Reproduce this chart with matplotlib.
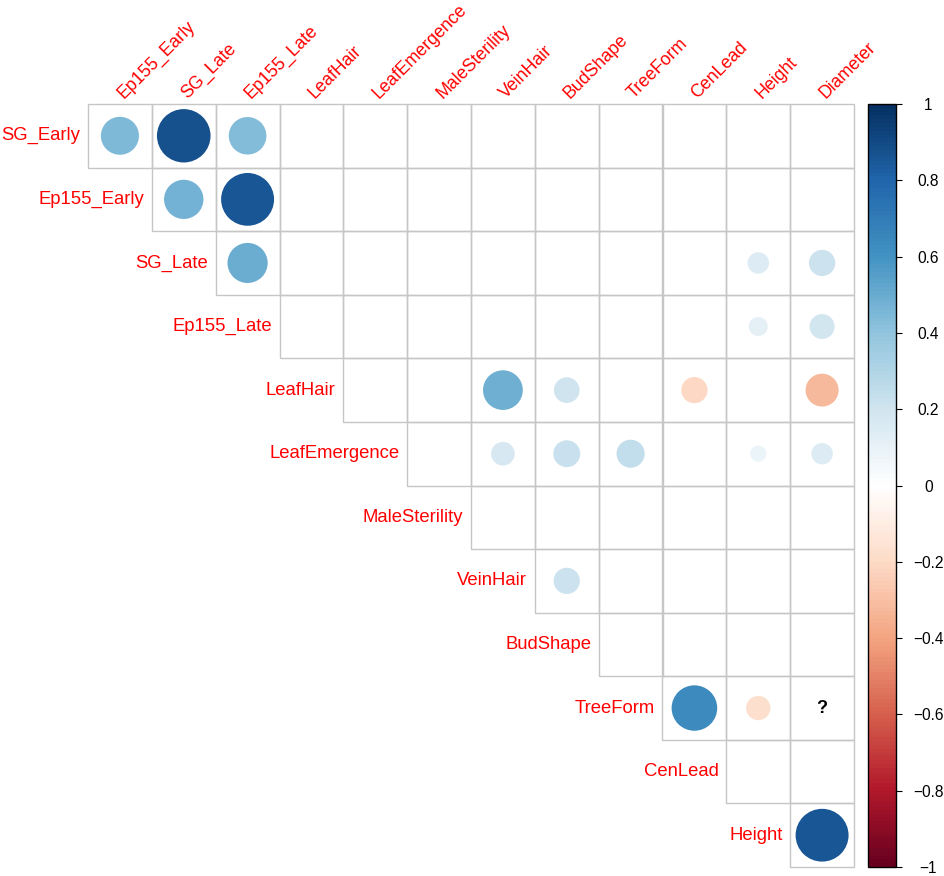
import numpy as np
import matplotlib as mpl
import matplotlib.pyplot as plt
from matplotlib.colors import LinearSegmentedColormap, Normalize
from matplotlib.patches import Circle, Rectangle

plt.rcParams['font.family'] = ['Liberation Sans', 'DejaVu Sans']

# row / column names of the upper triangle (diagonal dropped)
row_names = ['SG_Early', 'Ep155_Early', 'SG_Late', 'Ep155_Late', 'LeafHair',
             'LeafEmergence', 'MaleSterility', 'VeinHair', 'BudShape',
             'TreeForm', 'CenLead', 'Height']
col_names = ['Ep155_Early', 'SG_Late', 'Ep155_Late', 'LeafHair',
             'LeafEmergence', 'MaleSterility', 'VeinHair', 'BudShape',
             'TreeForm', 'CenLead', 'Height', 'Diameter']

# correlations, 0 = blank cell, None = NA ("?")
corr = [
    [0.44, 0.87, 0.43, 0, 0, 0, 0, 0, 0, 0, 0, 0],
    [0, 0.47, 0.85, 0, 0, 0, 0, 0, 0, 0, 0, 0],
    [0, 0, 0.49, 0, 0, 0, 0, 0, 0, 0, 0.14, 0.21],
    [0, 0, 0, 0, 0, 0, 0, 0, 0, 0, 0.11, 0.19],
    [0, 0, 0, 0, 0, 0, 0.48, 0.20, 0, -0.21, 0, -0.33],
    [0, 0, 0, 0, 0, 0, 0.17, 0.22, 0.24, 0, 0.08, 0.14],
    [0, 0, 0, 0, 0, 0, 0, 0, 0, 0, 0, 0],
    [0, 0, 0, 0, 0, 0, 0, 0.21, 0, 0, 0, 0],
    [0, 0, 0, 0, 0, 0, 0, 0, 0, 0, 0, 0],
    [0, 0, 0, 0, 0, 0, 0, 0, 0, 0.63, -0.18, None],
    [0, 0, 0, 0, 0, 0, 0, 0, 0, 0, 0, 0],
    [0, 0, 0, 0, 0, 0, 0, 0, 0, 0, 0, 0.85],
]

rdbu = ['#67001F', '#B2182B', '#D6604D', '#F4A582', '#FDDBC7', '#FFFFFF',
        '#D1E5F0', '#92C5DE', '#4393C3', '#2166AC', '#053061']
cmap = LinearSegmentedColormap.from_list('corr', rdbu, N=200)
norm = Normalize(-1, 1)

n = len(row_names)
fig = plt.figure(figsize=(9.45, 8.76), dpi=100)
ax = fig.add_axes([88 / 945, 9 / 876, 766 / 945, 763 / 876])
ax.set_xlim(-0.5, n - 0.5)
ax.set_ylim(n - 0.5, -0.5)
ax.axis('off')

for i in range(n):
    for j in range(i, n):
        ax.add_patch(Rectangle((j - 0.5, i - 0.5), 1, 1, fill=False,
                               ec='#c6c6c6', lw=1.0, clip_on=False))
        r = corr[i][j]
        if r is None:
            ax.text(j, i, '?', ha='center', va='center', fontsize=13,
                    fontweight='bold', color='black')
        elif r != 0:
            ax.add_patch(Circle((j, i), 0.45 * np.sqrt(abs(r)),
                                fc=cmap(norm(r)), ec='none'))

# labels
for i, name in enumerate(row_names):
    ax.text(i - 0.62, i, name, ha='right', va='center', color='red',
            fontsize=13.3)
for j, name in enumerate(col_names):
    ax.text(j + 0.05, -0.58, name, rotation=45, rotation_mode='anchor',
            ha='left', va='baseline', color='red', fontsize=12.8)

# colour legend
cax = fig.add_axes([868 / 945, 9 / 876, 28 / 945, 763 / 876])
ticks = np.round(np.arange(-1, 1.01, 0.2), 1) + 0.0
cb = mpl.colorbar.ColorbarBase(cax, cmap=cmap, norm=norm, ticks=ticks)
cb.set_ticklabels([('0' if abs(t) < 1e-9 else f'{t:g}').replace('-', '\u2212')
                   for t in ticks])
cb.outline.set_linewidth(1.0)
cax.tick_params(length=4.3, width=0.8, pad=19, labelsize=11.2)
for lab in cax.get_yticklabels():
    lab.set_ha('center')

fig.savefig('out.png', dpi=100)
